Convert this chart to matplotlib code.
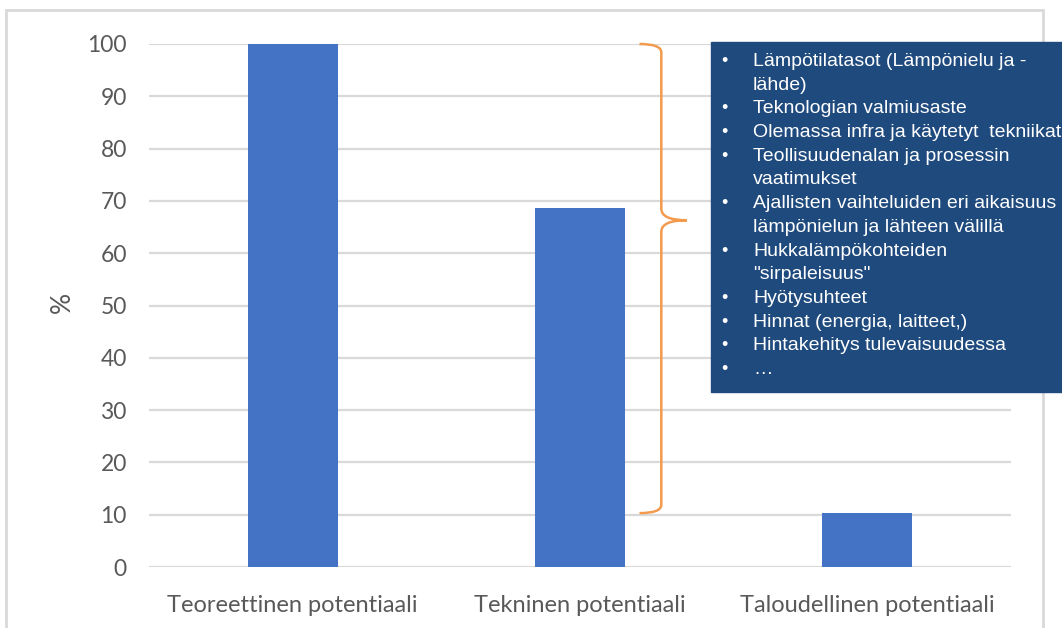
import matplotlib
matplotlib.use("Agg")
import matplotlib.pyplot as plt
from matplotlib.patches import Rectangle, PathPatch
from matplotlib.path import Path

categories = ["Teoreettinen potentiaali", "Tekninen potentiaali", "Taloudellinen potentiaali"]
values = [100, 68.6, 10.3]
yticks = [0, 10, 20, 30, 40, 50, 60, 70, 80, 90, 100]

factors = [
    ("•", "Lämpötilatasot (Lämpönielu ja -"),
    ("", "lähde)"),
    ("•", "Teknologian valmiusaste"),
    ("•", "Olemassa infra ja käytetyt  tekniikat"),
    ("•", "Teollisuudenalan ja prosessin"),
    ("", "vaatimukset"),
    ("•", "Ajallisten vaihteluiden eri aikaisuus"),
    ("", "lämpönielun ja lähteen välillä"),
    ("•", "Hukkalämpökohteiden"),
    ("", "\"sirpaleisuus\""),
    ("•", "Hyötysuhteet"),
    ("•", "Hinnat (energia, laitteet,)"),
    ("•", "Hintakehitys tulevaisuudessa"),
    ("•", "…"),
]

W, H = 1062, 628
fig = plt.figure(figsize=(W / 100, H / 100), dpi=100)
fig.patch.set_facecolor("white")

# outer chart frame
fig.add_artist(Rectangle((6 / W, -0.05), (1043 - 6) / W, (H - 10) / H + 0.05,
                         transform=fig.transFigure, fill=False,
                         edgecolor="#d9d9d9", linewidth=2))

ax = fig.add_axes([149 / W, (H - 567) / H, (1011 - 149) / W, (567 - 44) / H])
ax.set_facecolor("none")
x = list(range(len(categories)))
ax.bar(x, values, width=0.313, color="#4472C4", zorder=3)
ax.set_xlim(-0.5, 2.5)
ax.set_ylim(0, 100)
ax.set_yticks(yticks)
ax.yaxis.grid(True, color="#d9d9d9", linewidth=1.6, zorder=0)
ax.set_axisbelow(True)
for s in ax.spines.values():
    s.set_visible(False)
ax.tick_params(length=0, labelcolor="#595959")
ax.tick_params(axis="y", pad=16, labelsize=16.5)
ax.tick_params(axis="x", pad=20, labelsize=17)
ax.set_xticks(x)
ax.set_xticklabels(categories, fontfamily="Lato")
for lab in ax.get_yticklabels():
    lab.set_fontfamily("Lato")
fig.text(62 / W, (H - 302) / H, "%", fontsize=19, color="#595959", fontfamily="Lato",
         rotation=90, ha="center", va="center")

# curly brace spanning the technical potential
xv, xe, xt = 1.283, 1.207, 1.372
yt, yb, ym = 100, 10.3, 66.3
verts = [
    (xe, yt), (xv, yt), (xv, yt - 1.6),
    (xv, ym + 2.2), (xv, ym), (xt, ym),
    (xv, ym), (xv, ym - 2.2),
    (xv, yb + 1.6), (xv, yb), (xe, yb),
]
codes = [Path.MOVETO, Path.CURVE3, Path.CURVE3,
         Path.LINETO, Path.CURVE3, Path.CURVE3,
         Path.CURVE3, Path.CURVE3,
         Path.LINETO, Path.CURVE3, Path.CURVE3]
brace = PathPatch(Path(verts, codes), fill=False, edgecolor="#F29B4F",
                  linewidth=1.8, clip_on=False, zorder=4)
ax.add_patch(brace)

# text box with factors
fig.add_artist(Rectangle((711 / W, (H - 392) / H), (W - 711 + 5) / W, (392 - 42) / H,
                         transform=fig.transFigure, facecolor="#1F4A7E",
                         edgecolor="#1F4A7E", zorder=5))
for i, (b, t) in enumerate(factors):
    yy = (H - (66 + 23.7 * i)) / H
    if b:
        fig.text(724 / W, yy, b, color="white", fontsize=13, va="baseline",
                 ha="center", fontfamily="Liberation Sans", zorder=6)
    fig.text(753 / W, yy, t, color="white", fontsize=14, va="baseline",
             fontfamily="Liberation Sans", zorder=6)

fig.savefig("out.png", dpi=100, facecolor="white")
